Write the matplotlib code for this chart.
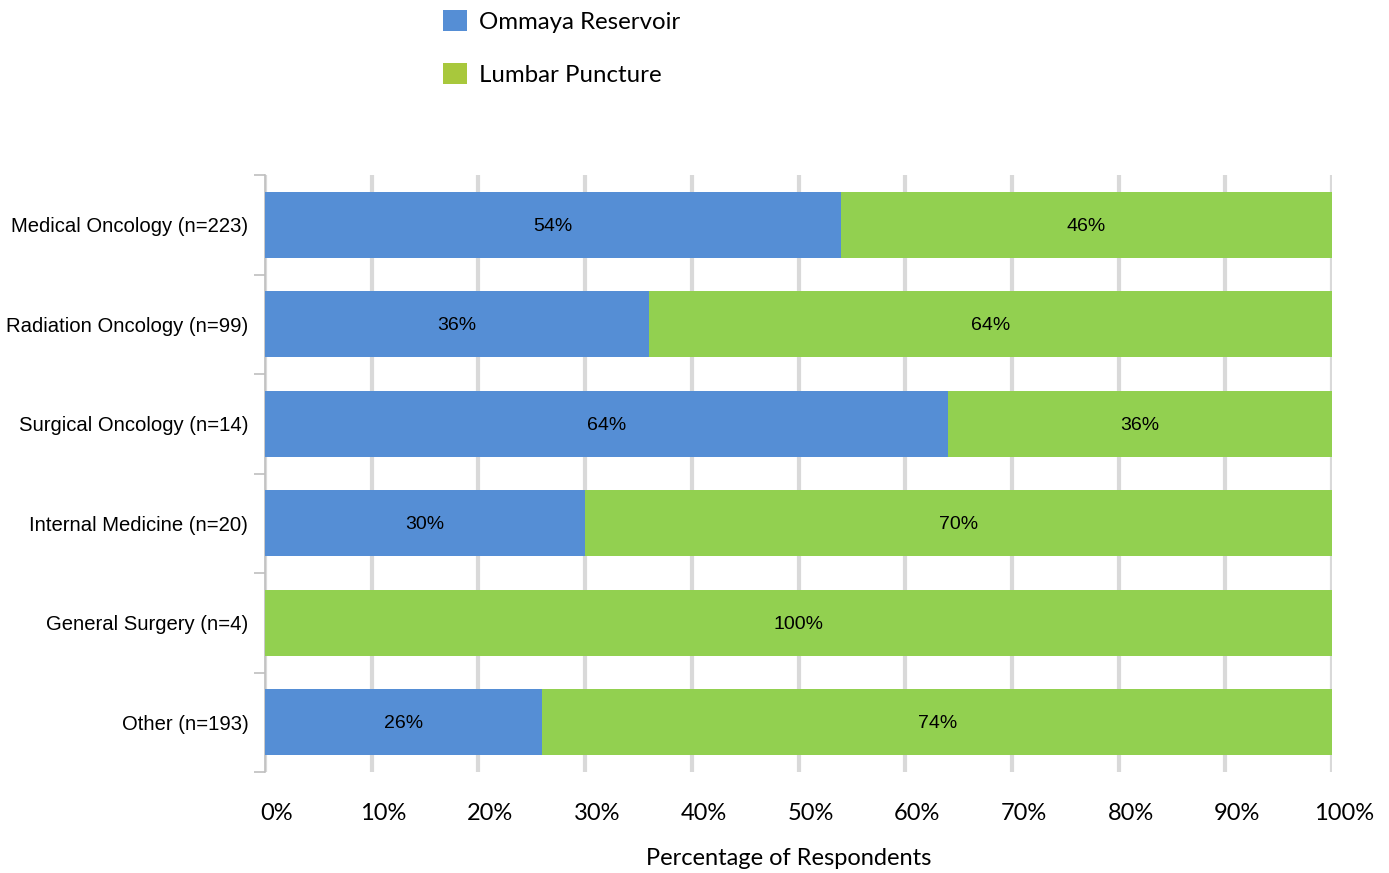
import matplotlib
matplotlib.use("Agg")
import matplotlib.pyplot as plt
from matplotlib.patches import Patch
import matplotlib.transforms as mtransforms
import numpy as np

categories = ["Medical Oncology (n=223)", "Radiation Oncology (n=99)", "Surgical Oncology (n=14)",
              "Internal Medicine (n=20)", "General Surgery (n=4)", "Other (n=193)"]
ommaya = [54, 36, 64, 30, 0, 26]
lumbar = [46, 64, 36, 70, 100, 74]
series_names = ["Ommaya Reservoir", "Lumbar Puncture"]
xticks = [0, 10, 20, 30, 40, 50, 60, 70, 80, 90, 100]
xtick_labels = [f"{v}%" for v in xticks]
xlabel = "Percentage of Respondents"

blue = "#558ED5"
green = "#92D050"
legend_green = "#A8C83C"
grid_col = "#D9D9D9"

fig = plt.figure(figsize=(13.89, 8.73), dpi=100)
W, H = 1389, 873
ax = fig.add_axes([265 / W, 1 - 772 / H, (1332 - 265) / W, (772 - 175) / H])

y = np.arange(len(categories))
ax.barh(y, ommaya, height=0.66, color=blue, zorder=3)
ax.barh(y, lumbar, left=ommaya, height=0.66, color=green, zorder=3)

for i in range(len(categories)):
    if ommaya[i] > 0:
        ax.text(ommaya[i] / 2, y[i] + 0.015, f"{ommaya[i]}%", ha="center", va="center",
                fontsize=14, family="Liberation Sans", color="black", zorder=4)
    if lumbar[i] > 0:
        ax.text(ommaya[i] + lumbar[i] / 2, y[i] + 0.015, f"{lumbar[i]}%", ha="center", va="center",
                fontsize=14, family="Liberation Sans", color="black", zorder=4)

ax.set_xlim(0, 100)
ax.set_ylim(len(categories) - 0.5, -0.5)
ax.set_yticks(y)
ax.set_yticklabels(categories, fontsize=14.6, family="Liberation Sans")
ax.tick_params(axis="y", which="major", length=0, pad=12)
ax.set_yticks(np.arange(-0.5, len(categories) + 0.5, 1), minor=True)
ax.tick_params(axis="y", which="minor", length=8, color="#BFBFBF", width=1.2)

ax.set_xticks(xticks)
ax.set_xticklabels(xtick_labels, fontsize=17, family="Lato")
ax.tick_params(axis="x", length=0, pad=22)
offset = mtransforms.ScaledTranslation(12 / 100, 0, fig.dpi_scale_trans)
for lab in ax.get_xticklabels():
    lab.set_transform(lab.get_transform() + offset)

ax.xaxis.grid(True, color=grid_col, linewidth=3, zorder=0)
ax.set_axisbelow(True)
for s in ["top", "right", "bottom"]:
    ax.spines[s].set_visible(False)
ax.spines["left"].set_color("#BFBFBF")
ax.spines["left"].set_linewidth(1.2)

ax.set_xlabel(xlabel, fontsize=17, family="Lato")
ax.xaxis.set_label_coords(0.4906, -0.127)

handles = [Patch(facecolor=blue, edgecolor="none"), Patch(facecolor=legend_green, edgecolor="none")]
fig.legend(handles, series_names, loc="upper left", bbox_to_anchor=(433 / W, 1.0),
           frameon=False, prop={"family": "Lato", "size": 17.3},
           handlelength=1.0, handleheight=1.0, handletextpad=0.5, labelspacing=1.25,
           borderaxespad=0)

fig.savefig("out.png", dpi=100)
